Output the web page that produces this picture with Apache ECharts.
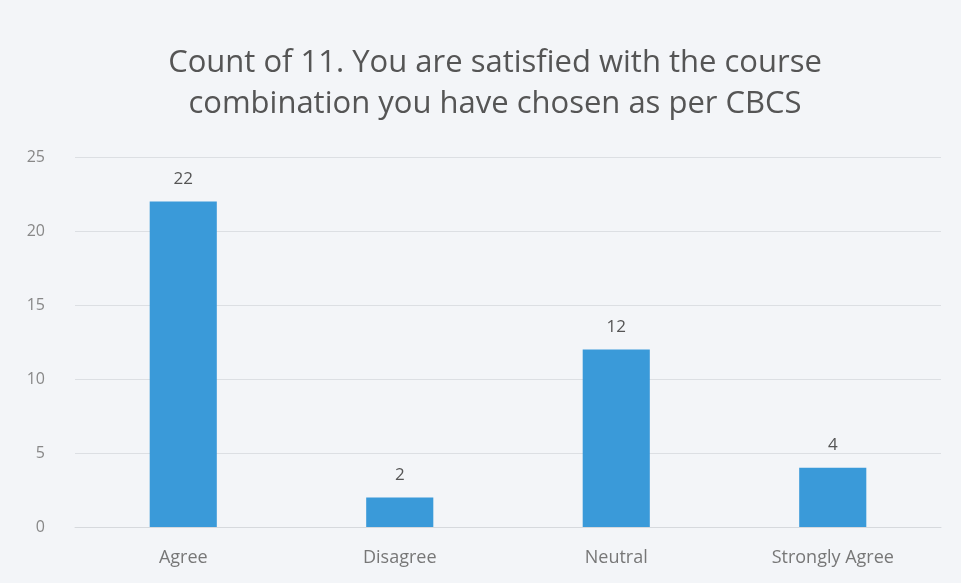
<!DOCTYPE html>
<html><head><meta charset="utf-8">
<script src="https://cdn.jsdelivr.net/npm/echarts@6/dist/echarts.min.js"></script>
<style>html,body{margin:0;padding:0;background:#f3f5f8;}#c{width:961px;height:583px;}</style>
</head><body><div id="c"></div>
<script>
const categories = ['Agree', 'Disagree', 'Neutral', 'Strongly Agree'];
const counts = [22, 2, 12, 4];
const yTicks = [0, 5, 10, 15, 20, 25];
const titleText = 'Count of 11. You are satisfied with the course\ncombination you have chosen as per CBCS';

const chart = echarts.init(document.getElementById('c'));
chart.setOption({
  backgroundColor: '#f3f5f8',
  animation: false,
  title: {
    text: titleText,
    left: 490, textAlign: 'center', top: 38,
    textStyle: { fontFamily: 'Open Sans', fontSize: 31, fontWeight: 'normal', color: '#555', lineHeight: 41 }
  },
  grid: { left: 75, right: 20, top: 157, bottom: 56 },
  xAxis: {
    type: 'category', data: categories,
    axisLine: { lineStyle: { color: '#d6d9dd' } },
    axisTick: { show: false },
    axisLabel: { color: '#777', fontFamily: 'Open Sans', fontSize: 18, margin: 22 }
  },
  yAxis: {
    type: 'value', min: yTicks[0], max: yTicks[yTicks.length - 1], interval: 5,
    axisLine: { show: false }, axisTick: { show: false },
    axisLabel: { color: '#888', fontFamily: 'Open Sans', fontSize: 16, margin: 30 },
    splitLine: { lineStyle: { color: '#dcdfe3' } }
  },
  series: [{
    type: 'bar', data: counts, barWidth: '31%',
    itemStyle: { color: '#3a9ad9' },
    label: { show: true, position: 'top', distance: 14, color: '#555', fontFamily: 'Open Sans', fontSize: 17 }
  }]
});
</script></body></html>
